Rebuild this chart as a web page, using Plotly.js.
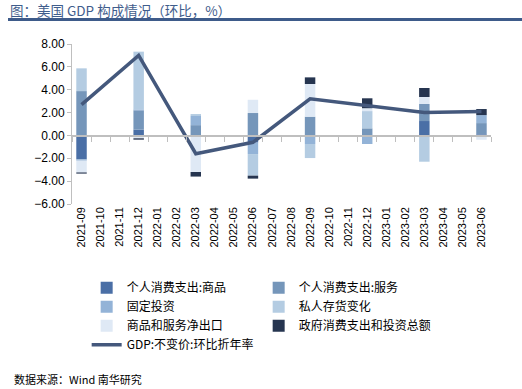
<!DOCTYPE html>
<html><head><meta charset="utf-8">
<script src="https://cdn.plot.ly/plotly-3.0.1.min.js"></script>
<style>html,body{margin:0;padding:0;background:#fff}
#wrap{position:relative;width:522px;height:389px}
#rule{position:absolute;left:8px;top:18px;width:514px;height:3px;background:#3e5b8a;z-index:5}</style>
</head><body><div id="wrap"><div id="chart" style="width:522px;height:389px"></div><div id="rule"></div></div>
<script>
const months = ['2021-09','2021-10','2021-11','2021-12','2022-01','2022-02','2022-03','2022-04','2022-05','2022-06','2022-07','2022-08','2022-09','2022-10','2022-11','2022-12','2023-01','2023-02','2023-03','2023-04','2023-05','2023-06'];
const quarters = ['2021-09','2021-12','2022-03','2022-06','2022-09','2022-12','2023-03','2023-06'];
const goods = [-2.09, 0.50, 0.00, -0.63, -0.08, 0.00, 1.26, 0.10];
const services = [3.88, 1.70, 0.90, 1.96, 1.64, 0.62, 1.49, 0.98];
const fixedInv = [-0.12, 0.08, 0.80, -1.00, -0.67, -0.75, -0.10, 0.70];
const inventories = [1.99, 5.05, 0.17, -1.89, -1.23, 1.51, -2.20, 0.00];
const netExports = [-1.03, -0.25, -3.20, 1.16, 2.86, 0.25, 0.61, -0.38];
const govt = [-0.10, -0.12, -0.40, -0.26, 0.58, 0.87, 0.79, 0.53];
const gdp = [2.7, 7.0, -1.6, -0.6, 3.2, 2.6, 2.0, 2.1];
const yTicks = [-6, -4, -2, 0, 2, 4, 6, 8];

const F = 'Liberation Sans, Arial, Noto Sans CJK SC, sans-serif';
const CJK = 'Noto Sans CJK SC, Liberation Sans, sans-serif';

function bar(name, y, color) {
  return {type: 'bar', name: name, x: quarters, y: y, marker: {color: color, line: {width: 0}}, xaxis: 'x', yaxis: 'y'};
}
const data = [
  bar('个人消费支出:商品', goods, '#4a6fa6'),
  bar('个人消费支出:服务', services, '#7596ba'),
  bar('固定投资', fixedInv, '#93b3d7'),
  bar('私人存货变化', inventories, '#b4cce2'),
  bar('商品和服务净出口', netExports, '#dfe9f5'),
  bar('政府消费支出和投资总额', govt, '#263550'),
  {type: 'scatter', mode: 'lines', name: 'GDP:不变价:环比折年率', x: quarters, y: gdp,
   line: {color: '#44587c', width: 3.5}, xaxis: 'x2', yaxis: 'y'}
];
const layout = {
  width: 522, height: 389,
  margin: {l: 72, r: 31, t: 44, b: 185, autoexpand: false},
  paper_bgcolor: 'rgba(0,0,0,0)', plot_bgcolor: '#fff',
  barmode: 'relative', bargap: 0.45,
  font: {family: CJK, size: 12, color: '#000'},
  xaxis: {type: 'category', categoryorder: 'array', categoryarray: months, tickvals: months, ticktext: months,
          range: [-0.5, months.length - 0.5], tickangle: -90, ticks: '', showline: false, showgrid: false, zeroline: false,
          automargin: false, tickfont: {family: F, size: 11, color: '#000'}},
  xaxis2: {type: 'category', categoryorder: 'array', categoryarray: months, matches: 'x', overlaying: 'x',
           anchor: 'free', position: 6/14, side: 'bottom', showticklabels: false, ticks: 'outside', ticklen: 5,
           tickcolor: '#bfbfbf', tickson: 'boundaries', showline: true, linecolor: '#bfbfbf', linewidth: 1.5,
           showgrid: false, zeroline: false, automargin: false},
  yaxis: {range: [-6, 8], tickvals: yTicks, tickformat: '.2f', showgrid: false, zeroline: false, automargin: false,
          showline: true, linecolor: '#bfbfbf', linewidth: 1, ticks: 'outside', ticklen: 4, tickcolor: '#bfbfbf',
          tickfont: {family: F, size: 12, color: '#000'}},
  showlegend: true,
  legend: {orientation: 'h', x: 0.035, xanchor: 'left', y: -0.4325, yanchor: 'top', entrywidth: 127, entrywidthmode: 'pixels',
           traceorder: 'normal', font: {family: CJK, size: 12, color: '#000'}, itemwidth: 30, tracegroupgap: 0,
           bgcolor: 'rgba(0,0,0,0)'},
  annotations: [
    {text: '图：美国 GDP 构成情况（环比，%）', xref: 'paper', yref: 'paper', x: -0.153, xanchor: 'left',
     y: 1.0 + 34/160, yanchor: 'middle', showarrow: false, font: {family: CJK, size: 13.5, color: '#3f5d8c'}},
    {text: '数据来源：Wind 南华研究', xref: 'paper', yref: 'paper', x: -0.143, xanchor: 'left',
     y: -1.094, yanchor: 'middle', showarrow: false, font: {family: CJK, size: 11, color: '#000'}}]
};
Plotly.newPlot('chart', data, layout, {displayModeBar: false, staticPlot: true});
</script></body></html>
